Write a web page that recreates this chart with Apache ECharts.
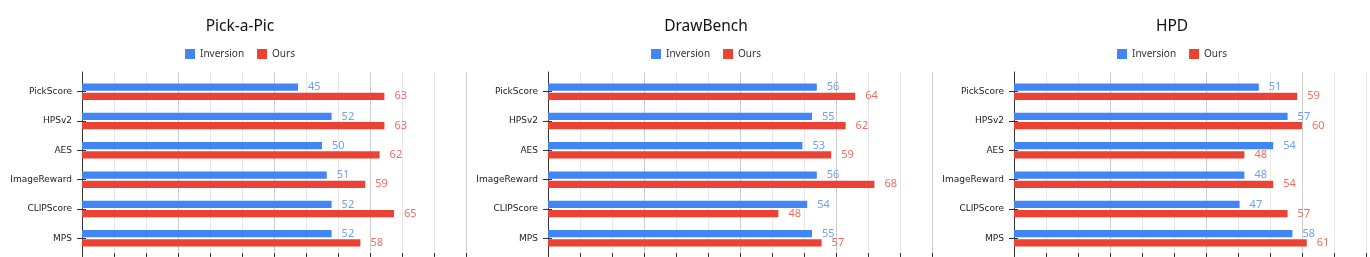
<!DOCTYPE html>
<html>
<head>
<meta charset="utf-8">
<script src="https://cdn.jsdelivr.net/npm/echarts@6/dist/echarts.min.js"></script>
<style>
  html, body { margin: 0; padding: 0; background: #fff; overflow: hidden; }
  #wrap { position: relative; width: 1370px; height: 257px; overflow: hidden; }
  .panel { position: absolute; top: 0; width: 480px; height: 257px; }
</style>
</head>
<body>
<div id="wrap">
  <div class="panel" id="c0" style="left:0px"></div>
  <div class="panel" id="c1" style="left:466px"></div>
  <div class="panel" id="c2" style="left:932px"></div>
</div>
<script>
const categories = ['PickScore', 'HPSv2', 'AES', 'ImageReward', 'CLIPScore', 'MPS'];
const seriesNames = ['Inversion', 'Ours'];
const panelTitles = ['Pick-a-Pic', 'DrawBench', 'HPD'];

const pickInversion = [45, 52, 50, 51, 52, 52];
const pickOurs      = [63, 63, 62, 59, 65, 58];
const drawInversion = [56, 55, 53, 56, 54, 55];
const drawOurs      = [64, 62, 59, 68, 48, 57];
const hpdInversion  = [51, 57, 54, 48, 47, 58];
const hpdOurs       = [59, 60, 48, 54, 57, 61];

const panelData = [
  [pickInversion, pickOurs],
  [drawInversion, drawOurs],
  [hpdInversion, hpdOurs]
];

const xMin = 0, xMax = 80, xInterval = 20;
const colors = ['#4285F4', '#EA4335'];
const labelColors = ['rgba(66,133,244,0.78)', 'rgba(234,67,53,0.78)'];
const FONT = 'Noto Sans';
const AXIS_FONT = 'DejaVu Sans';

function makeOption(pi) {
  const gridL = 82, gridR = 14;
  return {
    animation: false,
    textStyle: { fontFamily: FONT },
    title: {
      text: panelTitles[pi],
      left: 'center',
      top: 14,
      textStyle: { fontFamily: FONT, fontSize: 15.5, fontWeight: 'normal', color: '#111' }
    },
    legend: {
      data: seriesNames,
      top: 44,
      left: 'center',
      icon: 'rect',
      itemWidth: 10,
      itemHeight: 10,
      itemGap: 13,
      textStyle: { fontFamily: FONT, fontSize: 10, color: '#333' }
    },
    grid: [
      { left: gridL, right: gridR, top: 72, bottom: 0, containLabel: false, outerBoundsMode: 'none' },
      { left: gridL, right: gridR, top: 77, height: 176, containLabel: false, outerBoundsMode: 'none' }
    ],
    xAxis: [
      {
        gridIndex: 0, type: 'value', min: xMin, max: xMax, interval: xInterval,
        axisLine: { show: false }, axisTick: { show: false }, axisLabel: { show: false },
        splitLine: { show: true, lineStyle: { color: '#cccccc', width: 1 } },
        minorTick: { show: false, splitNumber: 3 },
        minorSplitLine: { show: true, lineStyle: { color: '#e8e8e8', width: 1 } }
      },
      {
        gridIndex: 1, type: 'value', min: xMin, max: xMax, interval: xInterval,
        axisLine: { show: false },
        axisTick: { show: true, length: 4, lineStyle: { color: '#333' } },
        minorTick: { show: true, splitNumber: 3, length: 4, lineStyle: { color: '#333' } },
        axisLabel: { show: false },
        splitLine: { show: false }
      }
    ],
    yAxis: [
      {
        gridIndex: 0, type: 'value', position: 'left',
        axisLine: { show: true, onZero: false, lineStyle: { color: '#333', width: 1 } },
        axisTick: { show: false }, axisLabel: { show: false }, splitLine: { show: false }
      },
      {
        gridIndex: 1, type: 'category', data: categories, inverse: true, position: 'left',
        axisLine: { show: false },
        axisTick: { show: true, alignWithLabel: true, length: 5, lineStyle: { color: '#333' } },
        axisLabel: { margin: 10, fontFamily: AXIS_FONT, fontSize: 9, color: '#222' },
        splitLine: { show: false }
      },
      {
        gridIndex: 1, type: 'category', data: categories, inverse: true, position: 'left',
        axisLine: { show: false },
        axisTick: { show: true, inside: true, alignWithLabel: true, length: 4, lineStyle: { color: '#333' } },
        axisLabel: { show: false },
        splitLine: { show: false }
      }
    ],
    series: seriesNames.map((name, si) => ({
      name: name,
      type: 'bar',
      xAxisIndex: 1,
      yAxisIndex: 1,
      data: panelData[pi][si],
      barWidth: 7.3,
      barGap: '27%',
      itemStyle: { color: colors[si] },
      label: {
        show: true, position: 'right', distance: 10,
        fontFamily: FONT, fontSize: 11, color: labelColors[si]
      }
    }))
  };
}

for (let i = 0; i < 3; i++) {
  const chart = echarts.init(document.getElementById('c' + i), null, { renderer: 'canvas' });
  chart.setOption(makeOption(i));
}
</script>
</body>
</html>
